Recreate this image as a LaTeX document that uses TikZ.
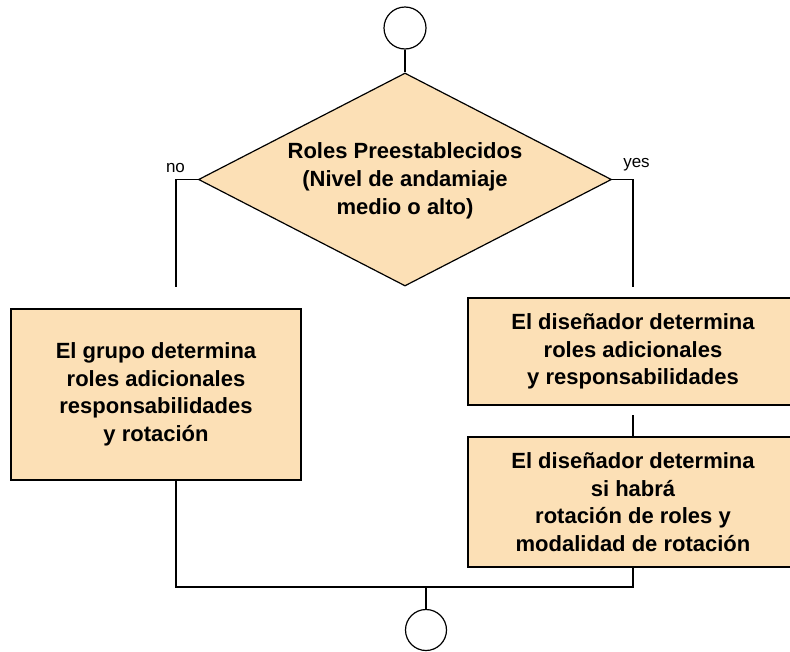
\documentclass[tikz,border=0pt]{standalone}
\usepackage{fontspec}
\setmainfont{Liberation Sans}
\usetikzlibrary{shapes.geometric}
\definecolor{boxfill}{RGB}{252,224,182}
\tikzset{
  conn/.style={draw=black,line width=1.2pt},
  proc/.style={rectangle,draw=black,line width=1.2pt,fill=boxfill,inner sep=0pt,
    align=center,font=\fontsize{22}{27.5}\selectfont\bfseries},
  term/.style={circle,draw=black,line width=1.2pt,inner sep=0pt,fill=white},
  lbl/.style={font=\fontsize{17}{20}\selectfont,inner sep=0pt,anchor=base}
}
\begin{document}
\begin{tikzpicture}[x={(1pt,0)},y={(0,-1pt)}]
\useasboundingbox (0,0) rectangle (790,651);
\fill[white] (0,0) rectangle (790,651);
\clip (0,0) rectangle (790,651);
% nodes
\node[term,minimum size=42pt] (start) at (405,28) {};
\node[diamond,draw=black,line width=1.2pt,fill=boxfill,inner sep=0pt,
      minimum width=413pt,minimum height=213pt] (dec) at (405,179.5) {};
\node[align=center,font=\fontsize{22}{28}\selectfont\bfseries,inner sep=0pt] (dectext) at (405,181)
  {Roles Preestablecidos\\(Nivel de andamiaje\\medio o alto)};
\node[proc,minimum width=290pt,minimum height=171pt] (left) at (156,394.5)
  {El grupo determina\\roles adicionales\\responsabilidades\\y rotación};
\node[proc,minimum width=330pt,minimum height=107pt] (rone) at (633,351.5)
  {El diseñador determina\\roles adicionales\\y responsabilidades};
\node[proc,minimum width=330pt,minimum height=130pt] (rtwo) at (633,502)
  {El diseñador determina\\si habrá\\rotación de roles y\\modalidad de rotación};
\node[term,minimum size=41pt] (end) at (426,630) {};
\node[lbl] (nolbl) at (175.5,172) {no};
\node[lbl] (yeslbl) at (636.5,167) {yes};
% coordinates
\coordinate (nobot) at (176,287);
\coordinate (yesbot) at (633,287);
\coordinate (mid) at (633,415);
\coordinate (join) at (426,587);
% connectors
\draw[conn] (start.south) -- (dec.north);
\draw[conn] (dec.west) -| (nobot);
\draw[conn] (dec.east) -| (yesbot);
\draw[conn] (mid) -- (rtwo.north);
\draw[conn] (left.south -| nobot) |- (join) -| (rtwo.south);
\draw[conn] (join) -- (end.north);
\end{tikzpicture}
\end{document}
